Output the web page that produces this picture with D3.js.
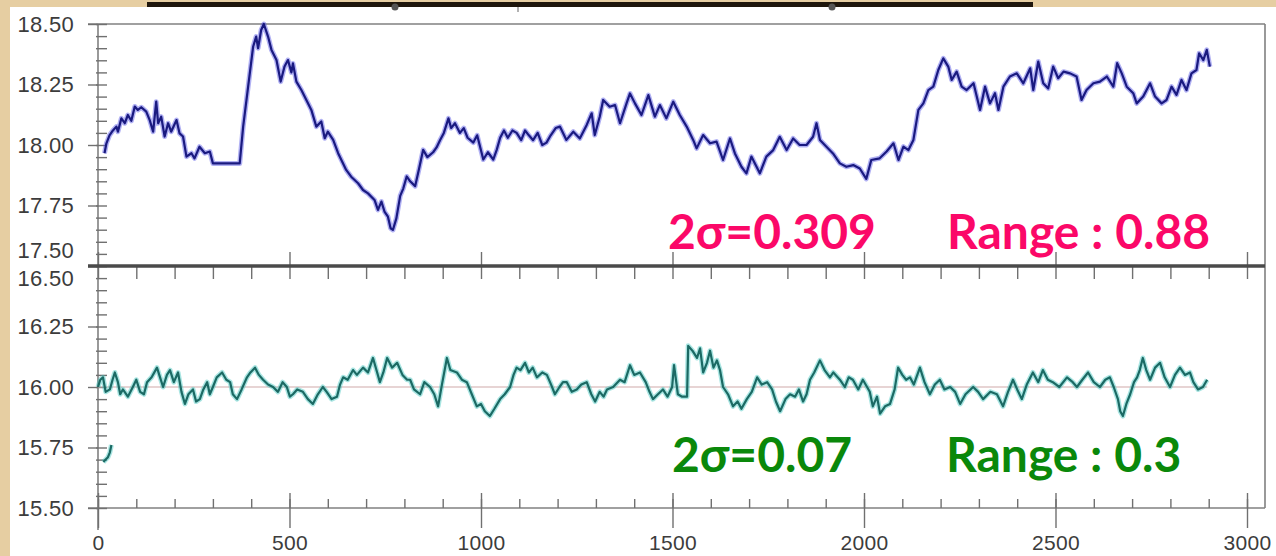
<!DOCTYPE html>
<html>
<head>
<meta charset="utf-8">
<script src="https://cdn.jsdelivr.net/npm/d3@7"></script>
<style>
  body { margin: 0; background: #e6cea2; }
  svg { display: block; }
  .tick text { font-family: "Liberation Sans", Arial, sans-serif; font-size: 22px; fill: #3c3c3c; letter-spacing: 0.3px; }
  .xlab .tick text { font-size: 21px; }
  .note { font-family: Lato, "Open Sans", sans-serif; font-weight: 700; font-size: 48px; }
</style>
</head>
<body>
<svg id="chart" width="1276" height="556"></svg>
<script>
// ---- data ----
const topT = [17,22,30,39,48,52,61,70,78,87,96,104,113,126,135,144,152,157,165,174,183,191,205,213,222,231,244,252,265,279,292,300,370,379,392,405,413,418,426,433,444,453,466,477,487,496,505,509,518,531,544,557,570,583,592,600,614,627,648,661,679,692,705,722,731,740,748,757,764,770,779,789,797,806,815,828,838,849,860,875,884,893,903,915,922,932,945,955,965,980,990,1006,1018,1032,1041,1050,1060,1070,1082,1093,1105,1115,1125,1136,1148,1160,1171,1182,1195,1206,1223,1241,1258,1276,1289,1297,1310,1319,1336,1350,1363,1380,1389,1402,1419,1437,1454,1467,1484,1502,1519,1537,1554,1563,1580,1598,1615,1632,1650,1663,1680,1693,1706,1728,1745,1763,1780,1798,1815,1832,1850,1867,1876,1885,1902,1919,1937,1954,1972,1989,2006,2019,2041,2059,2077,2090,2103,2116,2129,2142,2155,2168,2181,2194,2207,2220,2229,2242,2255,2268,2286,2303,2316,2329,2342,2351,2364,2381,2399,2416,2434,2442,2455,2468,2481,2494,2507,2521,2538,2555,2568,2581,2599,2616,2634,2651,2661,2673,2686,2703,2712,2729,2747,2760,2777,2790,2803,2816,2829,2842,2855,2868,2875,2886,2895,2903];
const topVal = [17.966,18.007,18.04,18.06,18.076,18.055,18.11,18.09,18.124,18.10,18.159,18.145,18.156,18.138,18.103,18.055,18.179,18.09,18.117,18.035,18.09,18.055,18.103,18.048,18.035,17.952,17.966,17.945,17.993,17.966,17.973,17.924,17.924,18.076,18.241,18.406,18.448,18.40,18.475,18.50,18.448,18.393,18.351,18.262,18.324,18.351,18.30,18.337,18.262,18.227,18.186,18.145,18.076,18.097,18.028,18.055,18.021,17.966,17.897,17.869,17.842,17.814,17.80,17.773,17.732,17.766,17.725,17.704,17.656,17.649,17.697,17.79,17.82,17.87,17.85,17.83,17.90,17.98,17.95,17.97,17.99,18.02,18.05,18.11,18.07,18.09,18.05,18.07,18.03,18.01,18.04,17.94,17.97,17.94,17.98,18.03,18.06,18.03,18.06,18.05,18.02,18.06,18.04,18.02,18.05,18.00,18.01,18.04,18.07,18.076,18.021,18.055,18.027,18.083,18.131,18.041,18.117,18.186,18.158,18.165,18.09,18.172,18.213,18.172,18.124,18.206,18.117,18.165,18.11,18.179,18.124,18.076,18.021,17.986,18.041,18.007,18.014,17.938,18.027,17.965,17.91,17.883,17.952,17.883,17.952,17.979,18.034,17.979,18.027,18.0,18.0,18.034,18.09,18.021,17.993,17.965,17.924,17.91,17.917,17.903,17.86,17.938,17.945,17.973,18.007,17.938,17.993,17.979,18.021,18.145,18.172,18.227,18.241,18.31,18.358,18.324,18.269,18.303,18.241,18.227,18.255,18.145,18.241,18.172,18.214,18.145,18.241,18.283,18.296,18.255,18.317,18.227,18.345,18.255,18.234,18.324,18.276,18.303,18.296,18.283,18.186,18.227,18.255,18.262,18.283,18.241,18.338,18.296,18.241,18.214,18.172,18.2,18.255,18.2,18.172,18.186,18.241,18.207,18.269,18.227,18.296,18.31,18.379,18.351,18.393,18.324];

const botT = [0,6,13,20,31,38,44,52,58,65,78,91,100,110,120,128,140,154,162,170,180,188,198,209,218,227,236,248,256,266,275,285,292,300,310,324,335,345,352,363,375,389,398,410,420,431,444,457,470,482,493,501,509,520,535,548,561,574,587,597,610,624,632,640,652,666,676,692,705,718,727,736,745,755,768,781,795,807,815,825,841,852,867,878,888,898,911,920,937,950,963,976,989,1000,1010,1023,1035,1050,1062,1076,1085,1093,1103,1115,1125,1135,1146,1160,1172,1183,1193,1205,1214,1224,1237,1250,1262,1276,1288,1298,1310,1320,1329,1345,1363,1375,1389,1400,1415,1430,1440,1449,1462,1475,1487,1499,1504,1514,1525,1538,1541,1552,1564,1572,1580,1590,1598,1607,1616,1624,1632,1645,1658,1670,1680,1694,1707,1721,1733,1747,1760,1770,1781,1795,1807,1820,1830,1841,1850,1859,1870,1885,1897,1911,1920,1937,1950,1960,1971,1985,1997,2008,2015,2023,2034,2042,2055,2068,2080,2089,2100,2110,2120,2130,2146,2158,2172,2185,2198,2210,2225,2238,2251,2265,2285,2298,2311,2330,2347,2363,2376,2389,2400,2412,2425,2441,2455,2467,2480,2493,2510,2530,2545,2556,2570,2585,2600,2616,2630,2642,2652,2663,2669,2676,2685,2695,2705,2713,2720,2728,2737,2747,2760,2773,2785,2799,2812,2825,2838,2851,2860,2872,2885,2896];
const botVal = [16.00,16.03,16.04,15.98,15.99,16.03,16.06,16.02,15.97,15.99,15.96,16.00,16.03,15.98,15.97,16.02,16.04,16.08,16.04,16.00,16.05,16.07,16.02,16.06,15.98,15.93,15.97,15.99,15.94,15.95,15.99,16.02,15.97,16.00,16.04,16.06,16.03,16.02,15.97,15.95,15.99,16.04,16.06,16.08,16.05,16.03,16.01,16.00,15.98,16.02,16.00,15.96,15.97,15.99,15.98,15.95,15.93,15.97,16.00,15.98,15.95,15.96,16.01,16.04,16.03,16.07,16.05,16.08,16.06,16.12,16.07,16.02,16.06,16.12,16.08,16.10,16.05,16.03,16.03,15.99,15.97,16.02,16.00,15.97,15.92,16.01,16.12,16.07,16.06,16.03,16.02,15.97,15.92,15.93,15.90,15.88,15.91,15.95,15.97,16.00,16.05,16.08,16.07,16.10,16.06,16.08,16.04,16.06,16.05,16.01,15.97,16.00,16.02,16.02,15.98,15.99,16.01,16.02,15.97,15.94,15.98,15.96,15.99,16.00,16.03,16.02,16.09,16.05,16.06,16.02,15.98,15.95,15.97,15.99,15.96,16.00,16.09,15.97,15.96,15.96,16.17,16.15,16.12,16.16,16.06,16.10,16.15,16.08,16.11,16.07,16.00,15.97,15.92,15.94,15.91,15.95,15.98,16.04,16.01,16.02,15.99,15.94,15.90,15.95,15.97,15.96,15.99,15.94,15.97,16.03,16.06,16.11,16.07,16.04,16.06,16.03,16.00,16.04,16.03,15.99,16.03,16.00,15.98,15.92,15.96,15.89,15.92,15.93,15.99,16.08,16.05,16.03,16.04,16.01,16.08,16.02,15.97,16.01,16.03,15.99,16.00,15.98,15.93,15.97,16.00,15.98,15.95,15.98,15.97,15.92,15.98,16.03,15.99,15.95,16.01,16.06,16.02,16.07,16.03,16.02,16.00,16.04,16.02,16.00,16.03,16.06,16.02,16.00,16.03,16.04,16.00,15.95,15.90,15.88,15.93,15.97,16.02,16.04,16.07,16.12,16.07,16.03,16.08,16.10,16.04,16.00,16.05,16.08,16.05,16.06,16.02,15.99,16.00,16.03];

// short stray segment near the start of the lower trace
const hookT = [14,20,26,31,35];
const hookVal = [15.69,15.70,15.71,15.73,15.76];

const refLevel = 16.00;

const xMajor = [0,500,1000,1500,2000,2500,3000];
const xMinor = d3.range(0, 3001, 100);
const yTopTicks = [17.50,17.75,18.00,18.25,18.50];
const yBotTicks = [15.50,15.75,16.00,16.25,16.50];
const yTopMinor = d3.range(17.50, 18.501, 0.05);
const yBotMinor = d3.range(15.50, 16.501, 0.05);

const notes = [
  {text: "2σ=0.309", x: 668, y: 249, color: "#fb0868"},
  {text: "Range : 0.88", x: 947, y: 249, color: "#fb0868"},
  {text: "2σ=0.07", x: 672, y: 472, color: "#0a880a"},
  {text: "Range : 0.3", x: 946, y: 472, color: "#0a880a"}
];

// ---- layout ----
const svg = d3.select("#chart");
const left = 98, right = 1247, frameRight = 1265;
const topY = 24, midY = 266, botY = 508;

const x = d3.scaleLinear().domain([0, 3000]).range([left, right]);
const yTop = d3.scaleLinear().domain([17.5, 18.5]).range([midY, topY]);
const yBot = d3.scaleLinear().domain([15.5, 16.5]).range([botY, midY]);

// background: beige border, white sheet, dark header bar
svg.append("rect").attr("width", 1276).attr("height", 556).attr("fill", "#e6cea2");
svg.append("rect").attr("x", 10).attr("y", 7).attr("width", 1266).attr("height", 549).attr("fill", "#fff");
svg.append("rect").attr("x", 147).attr("y", 2).attr("width", 886).attr("height", 5).attr("fill", "#1e160c");
svg.append("circle").attr("cx", 395).attr("cy", 7).attr("r", 3.5).attr("fill", "#555");
svg.append("circle").attr("cx", 832).attr("cy", 7).attr("r", 3.5).attr("fill", "#555");
svg.append("line").attr("x1", 518).attr("x2", 518).attr("y1", 7).attr("y2", 12).attr("stroke", "#666");

// frame lines
const frame = svg.append("g").attr("stroke", "#808080").attr("stroke-width", 1.6);
frame.append("line").attr("x1", left - 10).attr("x2", frameRight).attr("y1", topY).attr("y2", topY);
frame.append("line").attr("x1", left - 10).attr("x2", frameRight).attr("y1", botY).attr("y2", botY);
frame.append("line").attr("x1", frameRight).attr("x2", frameRight).attr("y1", topY).attr("y2", botY);
frame.append("line").attr("x1", left).attr("x2", left).attr("y1", topY).attr("y2", botY + 22);

function styleAxis(g) {
  g.select(".domain").remove();
  g.selectAll(".tick line").attr("stroke", "#707070").attr("stroke-width", 1.4);
}

// y axes: labels + major ticks to the left, minor ticks inside
svg.append("g").attr("transform", `translate(${left},0)`)
  .call(d3.axisLeft(yTop).tickValues(yTopTicks).tickFormat(d3.format(".2f")).tickSize(10).tickPadding(14))
  .call(styleAxis)
  .selectAll("text").attr("dy", d => d === 17.5 ? "-0.38em" : "0.34em");
svg.append("g").attr("transform", `translate(${left},0)`)
  .call(d3.axisLeft(yBot).tickValues(yBotTicks).tickFormat(d3.format(".2f")).tickSize(10).tickPadding(14))
  .call(styleAxis)
  .selectAll("text").attr("dy", d => d === 16.5 ? "0.9em" : "0.34em");
svg.append("g").attr("transform", `translate(${left - 2},0)`)
  .call(d3.axisRight(yTop).tickValues(yTopMinor).tickFormat("").tickSize(11))
  .call(styleAxis);
svg.append("g").attr("transform", `translate(${left - 2},0)`)
  .call(d3.axisRight(yBot).tickValues(yBotMinor).tickFormat("").tickSize(11))
  .call(styleAxis);

// bottom x axis
svg.append("g").attr("class", "xlab").attr("transform", `translate(0,${botY})`)
  .call(d3.axisBottom(x).tickValues(xMajor).tickFormat(d3.format("d")).tickSize(20).tickPadding(7))
  .call(styleAxis);
svg.append("g").attr("transform", `translate(0,${botY})`)
  .call(d3.axisTop(x).tickValues(xMinor).tickFormat("").tickSize(9))
  .call(styleAxis);
svg.append("g").attr("transform", `translate(0,${botY})`)
  .call(d3.axisTop(x).tickValues(xMajor).tickFormat("").tickSize(15))
  .call(styleAxis);

// shared middle axis between the two panels
svg.append("g").attr("transform", `translate(0,${midY})`)
  .call(d3.axisBottom(x).tickValues(xMinor).tickFormat("").tickSize(13))
  .call(styleAxis);
svg.append("g").attr("transform", `translate(0,${midY})`)
  .call(d3.axisTop(x).tickValues(xMajor).tickFormat("").tickSize(14))
  .call(styleAxis);
svg.append("line").attr("x1", left - 10).attr("x2", frameRight).attr("y1", midY).attr("y2", midY)
  .attr("stroke", "#4a4a4a").attr("stroke-width", 3.5);

// reference level in lower panel
svg.append("line")
  .attr("x1", x(0)).attr("x2", x(botT[botT.length - 1]))
  .attr("y1", yBot(refLevel)).attr("y2", yBot(refLevel))
  .attr("stroke", "#cfa9a9").attr("stroke-width", 1.2);

// traces
const topData = d3.zip(topT, topVal);
const botData = d3.zip(botT, botVal);
const hookData = d3.zip(hookT, hookVal);

const lineTop = d3.line().x(d => x(d[0])).y(d => yTop(d[1]));
const lineBot = d3.line().x(d => x(d[0])).y(d => yBot(d[1]));

function trace(data, gen, halo, core) {
  svg.append("path").datum(data).attr("d", gen).attr("fill", "none")
    .attr("stroke", halo).attr("stroke-width", 5).attr("stroke-opacity", 0.45).attr("stroke-linejoin", "round");
  svg.append("path").datum(data).attr("d", gen).attr("fill", "none")
    .attr("stroke", core).attr("stroke-width", 2.2).attr("stroke-linejoin", "round");
}
trace(topData, lineTop, "#5252e4", "#1a1a80");
trace(botData, lineBot, "#40c6be", "#1b6a64");
trace(hookData, lineBot, "#40c6be", "#1b6a64");

// annotations
svg.selectAll("text.note").data(notes).join("text")
  .attr("class", "note")
  .attr("x", d => d.x).attr("y", d => d.y)
  .attr("fill", d => d.color)
  .text(d => d.text);
</script>
</body>
</html>
